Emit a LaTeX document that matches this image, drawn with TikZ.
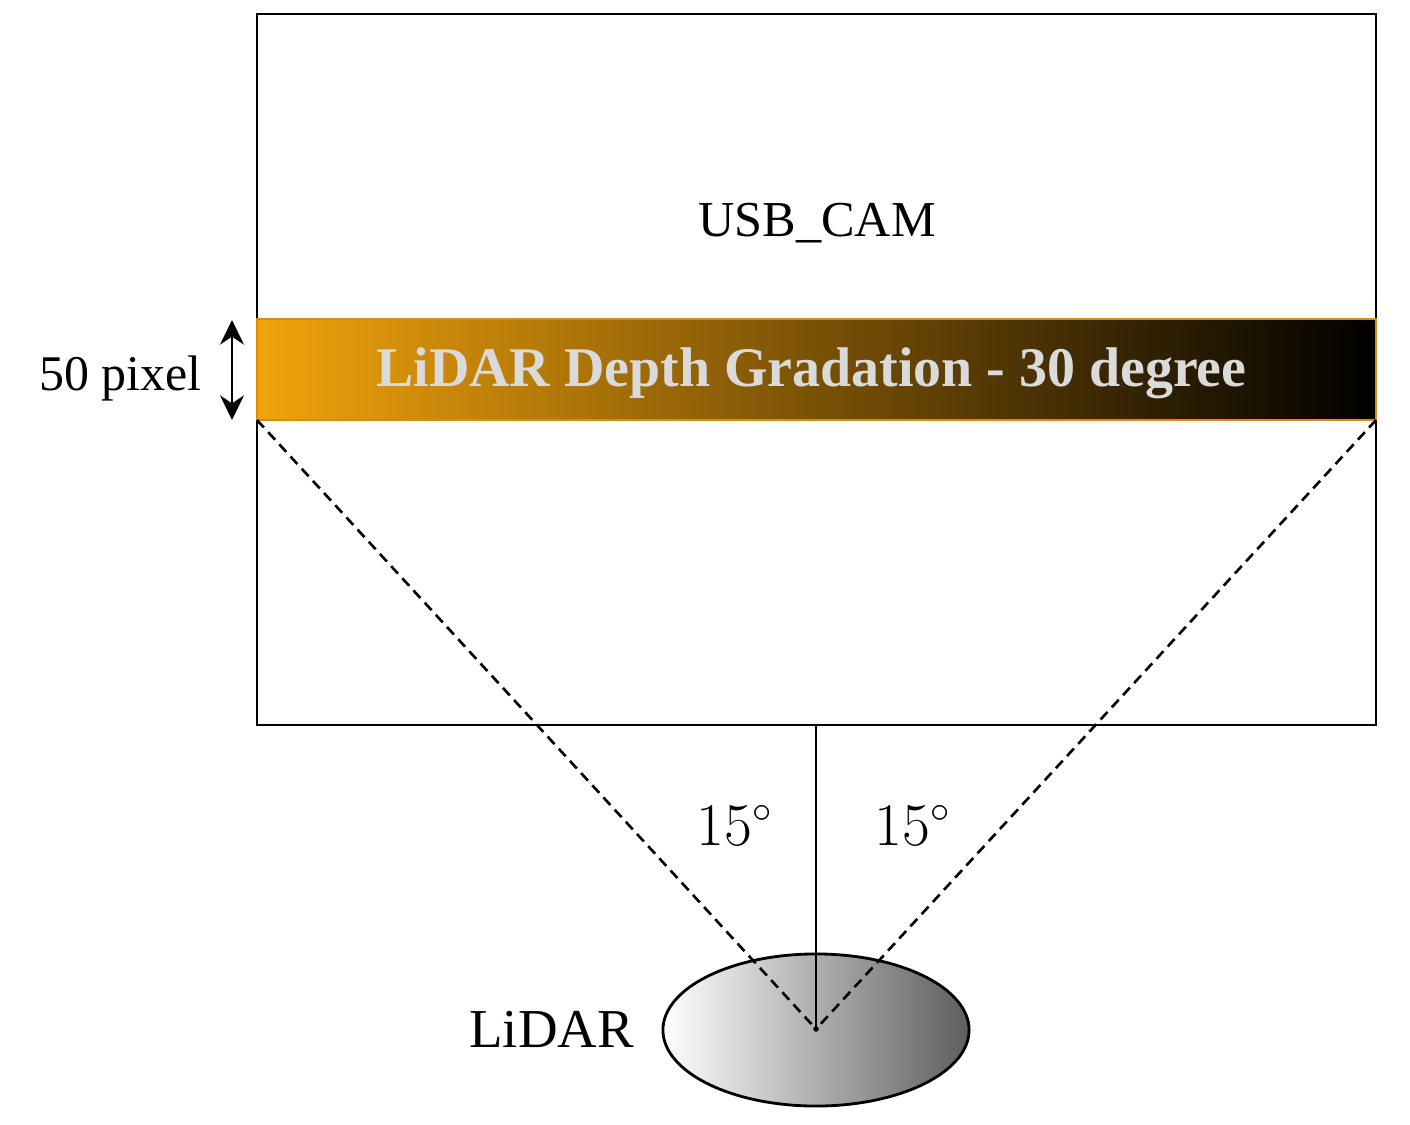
\documentclass[tikz,border=0pt]{standalone}
\usepackage{fontspec}
\setmainfont{Liberation Serif}
\usetikzlibrary{arrows.meta,shapes.geometric}
\definecolor{bandL}{HTML}{F2A30C}
\definecolor{bandEdge}{HTML}{D98B14}
\definecolor{bandText}{HTML}{DADADA}
\definecolor{lidarR}{HTML}{5E5E5E}
\begin{document}
\begin{tikzpicture}[x=0.01cm,y=-0.01cm,line width=0.75pt,
  dashline/.style={line width=0.75pt,dash pattern=on 2.9pt off 1.8pt},
  txt/.style={inner sep=0pt,anchor=base west},
  dimarrow/.style={line width=0.8pt,{Stealth[length=7pt,width=6.8pt]}-{Stealth[length=7pt,width=6.8pt]}}]
\useasboundingbox (0,0) rectangle (1410,1125);
% camera frame
\coordinate (camTL) at (257,14);
\coordinate (camBR) at (1376,725);
\coordinate (camBot) at (816,725);
\draw (camTL) rectangle (camBR);
% band
\coordinate (bandTL) at (257,319);
\coordinate (bandBR) at (1376,420);
\coordinate (bandBL) at (257,420);
\shade[left color=bandL,right color=black] (bandTL) rectangle (bandBR);
\draw[bandEdge,line width=0.8pt] (bandTL) rectangle (bandBR);
% texts
\node[txt,font=\fontsize{14.3}{17}\selectfont] (cam) at (697,237) {USB\_CAM};
\node[txt,font=\fontsize{15.9}{19}\selectfont\bfseries,text=bandText] (band) at (375,387) {LiDAR Depth Gradation - 30 degree};
\node[txt,font=\fontsize{14.2}{17}\selectfont] (px) at (38,391) {50 pixel};
% dimension arrow
\coordinate (arrT) at (232,320);
\coordinate (arrB) at (232,420);
\draw[dimarrow] (arrT) -- (arrB);
% lidar
\coordinate (apex) at (816,1029);
\node[ellipse,draw,line width=0.8pt,minimum width=3.06cm,minimum height=1.52cm,inner sep=0pt,left color=white,right color=lidarR] (lidar) at (816,1030) {};
\node[txt,font=\fontsize{15.6}{19}\selectfont] (lidarlbl) at (468,1047) {LiDAR};
\draw[dashline] (bandBL) -- (apex);
\draw[dashline] (bandBR) -- (apex);
\draw (camBot) -- (apex);
\fill (apex) circle[radius=0.028cm];
% angles
\node[txt,font=\fontsize{16.3}{19}\selectfont] (angL) at (695,845) {$15^\circ$};
\node[txt,font=\fontsize{16.3}{19}\selectfont] (angR) at (873,845) {$15^\circ$};
\end{tikzpicture}
\end{document}
